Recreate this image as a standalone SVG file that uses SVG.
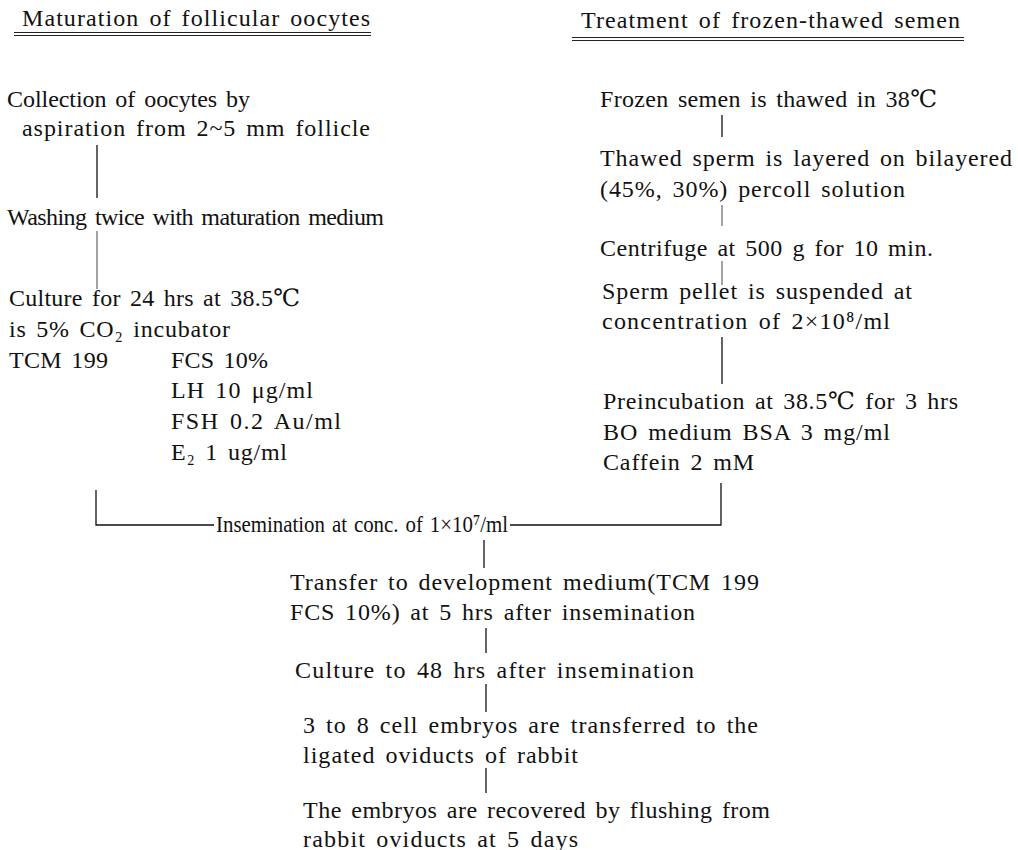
<svg xmlns="http://www.w3.org/2000/svg" width="1018" height="850" viewBox="0 0 1018 850">
<style>
text{font-family:"Liberation Serif","Times New Roman","DejaVu Serif",serif;font-size:24px;fill:#111;word-spacing:3px;}
.ln{stroke:#111;stroke-width:1.3;fill:none;}
.lg{stroke:#666;stroke-width:1.2;fill:none;}
.ul{stroke:#222;stroke-width:1.1;fill:none;}
</style>
<rect width="1018" height="850" fill="#fff"/>
<g id="connectors">
<line class="ln" x1="97" y1="145" x2="97" y2="198"/>
<line class="lg" x1="97" y1="231" x2="97" y2="289"/>
<polyline class="ln" points="96,490 96,525 214,525"/>
<polyline class="ln" points="510,525 721,525 721,483"/>
<line class="ln" x1="722" y1="115" x2="722" y2="137"/>
<line class="lg" x1="722" y1="205" x2="722" y2="226"/>
<line class="lg" x1="722" y1="261" x2="722" y2="285"/>
<line class="ln" x1="722" y1="337" x2="722" y2="384"/>
<line class="ln" x1="484" y1="540" x2="484" y2="568"/>
<line class="ln" x1="486" y1="628" x2="486" y2="653"/>
<line class="ln" x1="486" y1="684" x2="486" y2="712"/>
<line class="ln" x1="486" y1="768" x2="486" y2="793"/>
</g>
<g id="title-left">
<text x="22" y="26" textLength="348" lengthAdjust="spacing">Maturation of follicular oocytes</text>
<line class="ul" x1="14" y1="32.5" x2="371" y2="32.5"/>
<line class="ul" x1="14" y1="35.5" x2="371" y2="35.5"/>
</g>
<g id="title-right">
<text x="581" y="28" textLength="379" lengthAdjust="spacing">Treatment of frozen-thawed semen</text>
<line class="ul" x1="572" y1="37.5" x2="964" y2="37.5"/>
<line class="ul" x1="572" y1="40.5" x2="964" y2="40.5"/>
</g>
<g id="collection">
<text x="7" y="107" textLength="243" lengthAdjust="spacing">Collection of oocytes by</text>
<text x="22" y="136" textLength="348" lengthAdjust="spacing">aspiration from 2~5 mm follicle</text>
</g>
<g id="washing">
<text x="7" y="225" textLength="377" lengthAdjust="spacing">Washing twice with maturation medium</text>
</g>
<g id="culture">
<text x="9" y="306" textLength="291" lengthAdjust="spacing">Culture for 24 hrs at 38.5℃</text>
<text x="9" y="337" textLength="221" lengthAdjust="spacing">is 5% CO₂ incubator</text>
<text x="9" y="368" textLength="99" lengthAdjust="spacing">TCM 199</text>
<text x="171" y="368" textLength="97" lengthAdjust="spacing">FCS 10%</text>
<text x="171" y="398" textLength="142" lengthAdjust="spacing">LH 10 μg/ml</text>
<text x="171" y="429" textLength="170" lengthAdjust="spacing">FSH 0.2 Au/ml</text>
<text x="171" y="460" textLength="116" lengthAdjust="spacing">E₂ 1 ug/ml</text>
</g>
<g id="frozen">
<text x="600" y="107" textLength="337" lengthAdjust="spacing">Frozen semen is thawed in 38℃</text>
</g>
<g id="thawed">
<text x="600" y="166" textLength="412" lengthAdjust="spacing">Thawed sperm is layered on bilayered</text>
<text x="600" y="197" textLength="305" lengthAdjust="spacing">(45%, 30%) percoll solution</text>
</g>
<g id="centrifuge">
<text x="600" y="256" textLength="333" lengthAdjust="spacing">Centrifuge at 500 g for 10 min.</text>
</g>
<g id="pellet">
<text x="602" y="299" textLength="310" lengthAdjust="spacing">Sperm pellet is suspended at</text>
<text x="602" y="329" textLength="288" lengthAdjust="spacing">concentration of 2×10⁸/ml</text>
</g>
<g id="preincubation">
<text x="603" y="409" textLength="355" lengthAdjust="spacing">Preincubation at 38.5℃ for 3 hrs</text>
<text x="603" y="440" textLength="287" lengthAdjust="spacing">BO medium BSA 3 mg/ml</text>
<text x="603" y="470" textLength="151" lengthAdjust="spacing">Caffein 2 mM</text>
</g>
<g id="insemination">
<text x="216" y="532" textLength="292" lengthAdjust="spacingAndGlyphs" style="word-spacing:2px">Insemination at conc. of 1×10⁷/ml</text>
</g>
<g id="transfer">
<text x="290" y="590" textLength="469" lengthAdjust="spacing">Transfer to development medium(TCM 199</text>
<text x="290" y="620" textLength="405" lengthAdjust="spacing">FCS 10%) at 5 hrs after insemination</text>
</g>
<g id="culture48">
<text x="295" y="678" textLength="399" lengthAdjust="spacing">Culture to 48 hrs after  insemination</text>
</g>
<g id="embryos-transferred">
<text x="303" y="733" textLength="455" lengthAdjust="spacing">3 to 8 cell embryos are transferred to the</text>
<text x="303" y="763" textLength="275" lengthAdjust="spacing">ligated oviducts of rabbit</text>
</g>
<g id="embryos-recovered">
<text x="303" y="818" textLength="467" lengthAdjust="spacing">The embryos are recovered by flushing from</text>
<text x="303" y="847" textLength="275" lengthAdjust="spacing">rabbit oviducts at 5 days</text>
</g>
</svg>
